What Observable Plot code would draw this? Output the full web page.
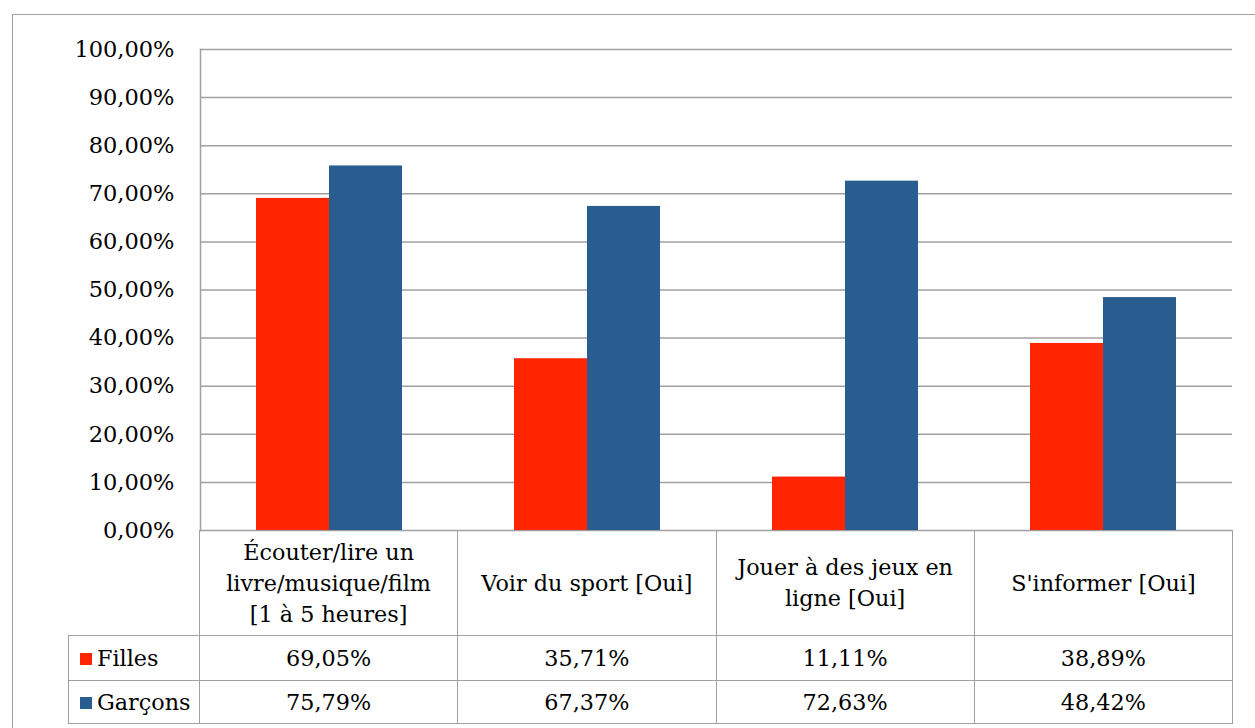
<!DOCTYPE html>
<html>
<head>
<meta charset="utf-8">
<script src="https://cdn.jsdelivr.net/npm/d3@7"></script>
<script src="https://cdn.jsdelivr.net/npm/@observablehq/plot@0.6"></script>
<style>
  html, body { margin: 0; padding: 0; background: #fff; overflow: hidden; }
  #wrap { position: relative; width: 1255px; height: 728px; font-family: "DejaVu Serif", serif; color: #000; }
  #outer { position: absolute; left: 12px; top: 14px; width: 1300px; height: 800px; border: 1.5px solid #a0a0a0; box-sizing: border-box; }
  #chart { position: absolute; left: 0; top: 0; }
  #tbl { position: absolute; left: 68px; top: 530px; border-collapse: collapse; table-layout: fixed; font-size: 22.3px; }
  #tbl td { border: 1.5px solid #a0a0a0; padding: 0; text-align: center; line-height: 31px; }
  #tbl tr.head td { height: 104px; }
  #tbl tr.r1 td { height: 44px; }
  #tbl tr.r2 td { height: 42px; }
  #tbl td.blank { border-left: none; border-top: none; }
  #tbl td.leg { text-align: left; padding-left: 11px; white-space: nowrap; }
  .sw { display: inline-block; width: 12px; height: 12px; margin-right: 5px; vertical-align: 1px; }
</style>
</head>
<body>
<div id="wrap">
  <div id="outer"></div>
  <div id="chart"></div>
  <table id="tbl"></table>
</div>
<script>
const categories = [
  "Écouter/lire un livre/musique/film [1 à 5 heures]",
  "Voir du sport [Oui]",
  "Jouer à des jeux en ligne [Oui]",
  "S'informer [Oui]"
];
const categoryLines = [
  ["Écouter/lire un", "livre/musique/film", "[1 à 5 heures]"],
  ["Voir du sport [Oui]"],
  ["Jouer à des jeux en", "ligne [Oui]"],
  ["S'informer [Oui]"]
];
const series = ["Filles", "Garçons"];
const filles = [0.6905, 0.3571, 0.1111, 0.3889];
const garcons = [0.7579, 0.6737, 0.7263, 0.4842];
const yTicks = [0, 0.1, 0.2, 0.3, 0.4, 0.5, 0.6, 0.7, 0.8, 0.9, 1.0];
const colors = ["#FF2500", "#2A5D8F"];

const seriesValues = [filles, garcons];
const rows = [];
categories.forEach((c, i) => {
  series.forEach((s, j) => rows.push({category: c, series: s, value: seriesValues[j][i]}));
});
const pct = d => (d * 100).toFixed(2).replace(".", ",") + "%";

const chart = Plot.plot({
  width: 1255,
  height: 560,
  marginLeft: 199,
  marginRight: 23,
  marginTop: 49,
  marginBottom: 30,
  style: {fontFamily: "DejaVu Serif", fontSize: "22.5px", color: "#000", background: "transparent", overflow: "visible"},
  fx: {domain: categories, padding: 0, axis: null},
  x: {domain: series, paddingInner: 0, paddingOuter: 0.767, axis: null},
  y: {domain: [0, 1]},
  color: {domain: series, range: colors},
  marks: [
    Plot.ruleY(yTicks, {stroke: "#a0a0a0", strokeWidth: 1.5}),
    Plot.barY(rows, {fx: "category", x: "series", y: "value", fill: "series"}),
    Plot.frame({anchor: "left", facetAnchor: "left", stroke: "#a0a0a0", strokeWidth: 1.5}),
    Plot.axisY({ticks: yTicks, tickSize: 0, tickPadding: 26, tickFormat: pct, fontSize: 22.5, label: null})
  ]
});
document.getElementById("chart").appendChild(chart);

// data table beneath the chart
const tbl = document.getElementById("tbl");
const cg = document.createElement("colgroup");
[131, 258.25, 258.25, 258.25, 258.25].forEach(w => {
  const col = document.createElement("col");
  col.style.width = w + "px";
  cg.appendChild(col);
});
tbl.appendChild(cg);
const head = document.createElement("tr");
head.className = "head";
const blank = document.createElement("td");
blank.className = "blank";
head.appendChild(blank);
categoryLines.forEach(lines => {
  const td = document.createElement("td");
  td.innerHTML = lines.map(l => l.replace(/&/g, "&amp;").replace(/</g, "&lt;")).join("<br>");
  head.appendChild(td);
});
tbl.appendChild(head);
series.forEach((s, j) => {
  const tr = document.createElement("tr");
  tr.className = j === 0 ? "r1" : "r2";
  const leg = document.createElement("td");
  leg.className = "leg";
  const sw = document.createElement("span");
  sw.className = "sw";
  sw.style.background = colors[j];
  leg.appendChild(sw);
  leg.appendChild(document.createTextNode(s));
  tr.appendChild(leg);
  seriesValues[j].forEach(v => {
    const td = document.createElement("td");
    td.textContent = pct(v);
    tr.appendChild(td);
  });
  tbl.appendChild(tr);
});
</script>
</body>
</html>
